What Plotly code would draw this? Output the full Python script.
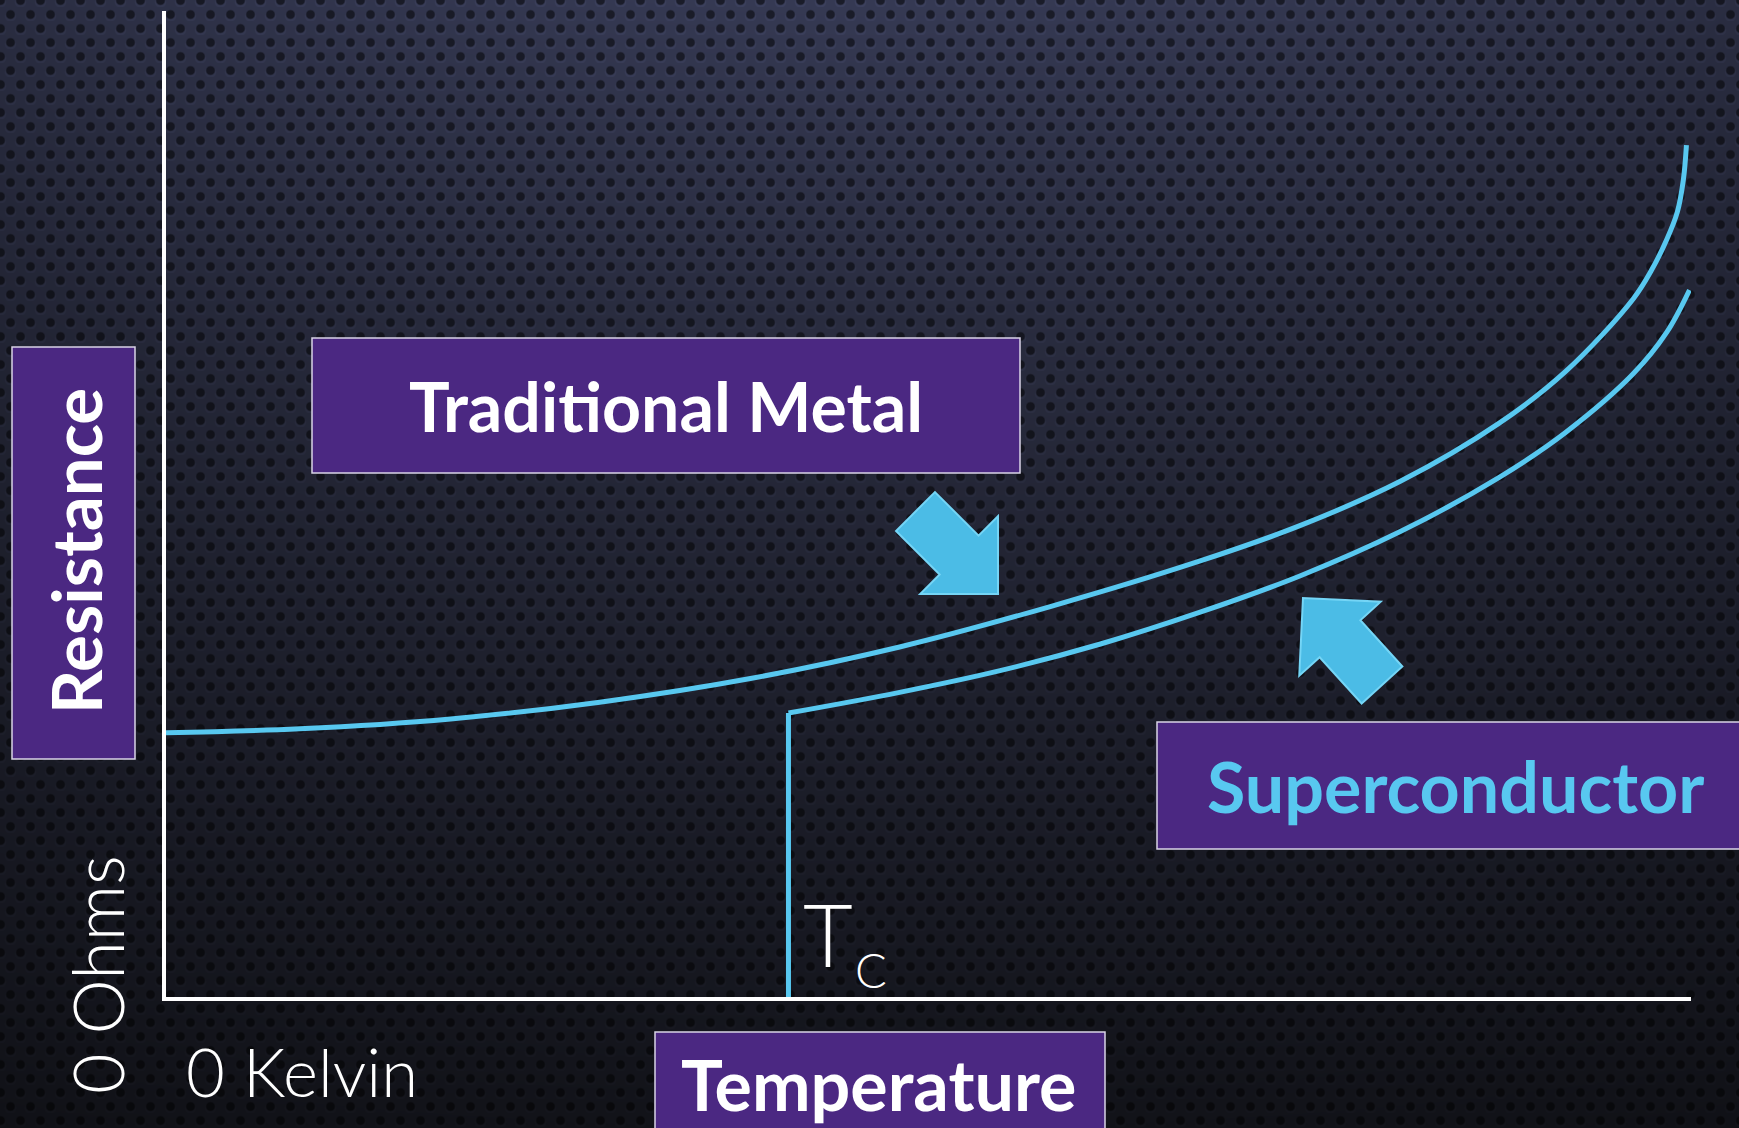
import base64
import struct
import zlib

import numpy as np
import plotly.graph_objects as go

# ---------------- data ----------------
metal_temp = [0.0, 8.8, 18.7, 28.5, 38.4, 48.2, 58.1, 67.9, 74.5, 81.1, 87.6, 92.0, 96.4, 97.6, 98.6, 99.3, 99.7, 99.9]
metal_res = [26.8, 27.2, 28.2, 29.9, 32.3, 35.5, 39.6, 44.2, 47.8, 52.3, 58.2, 63.5, 70.8, 73.7, 76.8, 79.6, 82.9, 86.4]

sc_temp = [40.9, 40.9, 48.2, 54.8, 61.4, 67.9, 74.5, 81.1, 87.6, 92.0, 96.4, 98.6, 100.1]
sc_res = [0.0, 28.8, 30.9, 33.1, 35.8, 39.0, 42.7, 47.2, 52.7, 57.3, 63.2, 67.4, 71.7]

label_metal = "Traditional Metal"
label_sc = "Superconductor"
label_y = "Resistance"
label_x = "Temperature"
label_y0 = "0 Ohms"
label_x0 = "0 Kelvin"

# ---------------- canvas / style ----------------
W, H = 1739, 1128
CYAN = "#58c8f0"
PURPLE = "#4b2882"
BORDER = "#d9d3e6"


def pxx(x):
    return x / W


def pxy(y):
    return 1 - y / H


# background texture (dark gradient + perforated dots)
def make_background():
    yy, xx = np.mgrid[0:H, 0:W].astype(np.float32)
    t = yy / H
    top = np.array([54, 58, 84], dtype=np.float32)
    bot = np.array([18, 19, 25], dtype=np.float32)
    tt = np.clip(t, 0, 1) ** 0.85
    base = top[None, None, :] * (1 - tt[..., None]) + bot[None, None, :] * tt[..., None]
    vig = 1 - 0.22 * ((xx - W * 0.5) / (W * 0.5)) ** 2 * (1 - 0.6 * t)
    base = base * vig[..., None]
    dy, dx = 14.0, 20.0
    r = np.floor((yy + dy / 2) / dy)
    cy = r * dy
    off = (r % 2) * (dx / 2)
    cx = np.round((xx - off) / dx) * dx + off
    d = np.sqrt((xx - cx) ** 2 + (yy - cy) ** 2)
    mask = np.clip((5.2 - d) / 1.6, 0, 1)
    d2 = np.sqrt((xx - cx) ** 2 + (yy - cy - 1.6) ** 2)
    hl = np.clip((6.2 - d2) / 1.2, 0, 1) * (1 - mask)
    img = base * (1 - 0.5 * mask[..., None]) * (1 + 0.12 * hl[..., None])
    img = np.clip(img, 0, 255).astype(np.uint8)
    raw = np.concatenate([np.zeros((H, 1), np.uint8), img.reshape(H, -1)], axis=1).tobytes()

    def chunk(tag, data):
        return struct.pack(">I", len(data)) + tag + data + struct.pack(">I", zlib.crc32(tag + data) & 0xFFFFFFFF)

    png = (b"\x89PNG\r\n\x1a\n"
           + chunk(b"IHDR", struct.pack(">IIBBBBB", W, H, 8, 2, 0, 0, 0))
           + chunk(b"IDAT", zlib.compress(raw, 6))
           + chunk(b"IEND", b""))
    return "data:image/png;base64," + base64.b64encode(png).decode()


def arrow_path(tip, tail, shaft=55, head=110, headlen=55):
    tip = np.array(tip, float)
    tail = np.array(tail, float)
    u = tip - tail
    u = u / np.linalg.norm(u)
    n = np.array([-u[1], u[0]])
    neck = tip - u * headlen
    pts = [tail + n * shaft / 2, neck + n * shaft / 2, neck + n * head / 2, tip,
           neck - n * head / 2, neck - n * shaft / 2, tail - n * shaft / 2]
    return "M " + " L ".join(f"{pxx(p[0]):.5f},{pxy(p[1]):.5f}" for p in pts) + " Z"


fig = go.Figure()

fig.add_trace(go.Scatter(x=metal_temp, y=metal_res, mode="lines",
                         line=dict(color=CYAN, width=5, shape="spline", smoothing=1.0),
                         hoverinfo="skip", showlegend=False))
fig.add_trace(go.Scatter(x=sc_temp[:2], y=sc_res[:2], mode="lines",
                         line=dict(color=CYAN, width=5),
                         hoverinfo="skip", showlegend=False))
fig.add_trace(go.Scatter(x=sc_temp[1:], y=sc_res[1:], mode="lines",
                         line=dict(color=CYAN, width=5, shape="spline", smoothing=1.0),
                         hoverinfo="skip", showlegend=False))

shapes = []
for (x0, x1, y0, y1) in [(312, 1020, 338, 473), (12, 135, 347, 759),
                         (1157, 1760, 722, 849), (655, 1105, 1032, 1150)]:
    shapes.append(dict(type="rect", xref="paper", yref="paper",
                       x0=pxx(x0), x1=pxx(x1), y0=pxy(y1), y1=pxy(y0),
                       fillcolor=PURPLE, line=dict(color=BORDER, width=1.5), layer="above"))
for tip, tail in [((998, 594), (915.5, 511.5)), ((1303, 598), (1382, 685))]:
    shapes.append(dict(type="path", xref="paper", yref="paper", path=arrow_path(tip, tail),
                       fillcolor="#4bbce6", line=dict(color="#74d5f6", width=2), layer="above"))

BOLD = "Lato"
annotations = [
    dict(text=label_metal, x=pxx(666), y=pxy(405), font=dict(family=BOLD, size=68, color="white", weight=700)),
    dict(text=label_y, x=pxx(76), y=pxy(551), textangle=-90,
         font=dict(family=BOLD, size=69, color="white", weight=700)),
    dict(text=label_sc, x=pxx(1455), y=pxy(786), font=dict(family=BOLD, size=70, color=CYAN, weight=700)),
    dict(text=label_x, x=pxx(878), y=pxy(1084), font=dict(family=BOLD, size=70, color="white", weight=700)),
    dict(text=label_y0, x=pxx(97), y=pxy(975), textangle=-90,
         font=dict(family="Lato", size=70, color="white", weight=300)),
    dict(text=label_x0, x=pxx(302), y=pxy(1071), font=dict(family="Lato", size=67, color="white", weight=300)),
    dict(text="T", x=pxx(828), y=pxy(933), font=dict(family="Lato", size=86, color="white", weight=300)),
    dict(text="C", x=pxx(871), y=pxy(970), font=dict(family="Lato", size=47, color="white", weight=300)),
]
for a in annotations:
    a.update(xref="paper", yref="paper", xanchor="center", yanchor="middle", showarrow=False, borderpad=0)

fig.update_layout(
    width=W, height=H,
    margin=dict(l=0, r=0, t=0, b=0, autoexpand=False),
    paper_bgcolor="#1c1e28",
    plot_bgcolor="rgba(0,0,0,0)",
    shapes=shapes,
    annotations=annotations,
    images=[dict(source=make_background(), xref="paper", yref="paper", x=0, y=1,
                 sizex=1, sizey=1, sizing="stretch", xanchor="left", yanchor="top", layer="below")],
    xaxis=dict(domain=[166 / W, 1691 / W], range=[0, 100.2], showline=True, linecolor="white",
               linewidth=4, showgrid=False, zeroline=False, showticklabels=False, ticks="",
               automargin=False, fixedrange=True),
    yaxis=dict(domain=[1 - 997 / H, 1 - 11 / H], range=[0, 100], showline=True, linecolor="white",
               linewidth=4, showgrid=False, zeroline=False, showticklabels=False, ticks="",
               automargin=False, fixedrange=True),
    showlegend=False,
)

fig.write_html("out.html", config={"displayModeBar": False, "staticPlot": True},
               post_script="document.body.style.margin='0';document.body.style.overflow='hidden';")
